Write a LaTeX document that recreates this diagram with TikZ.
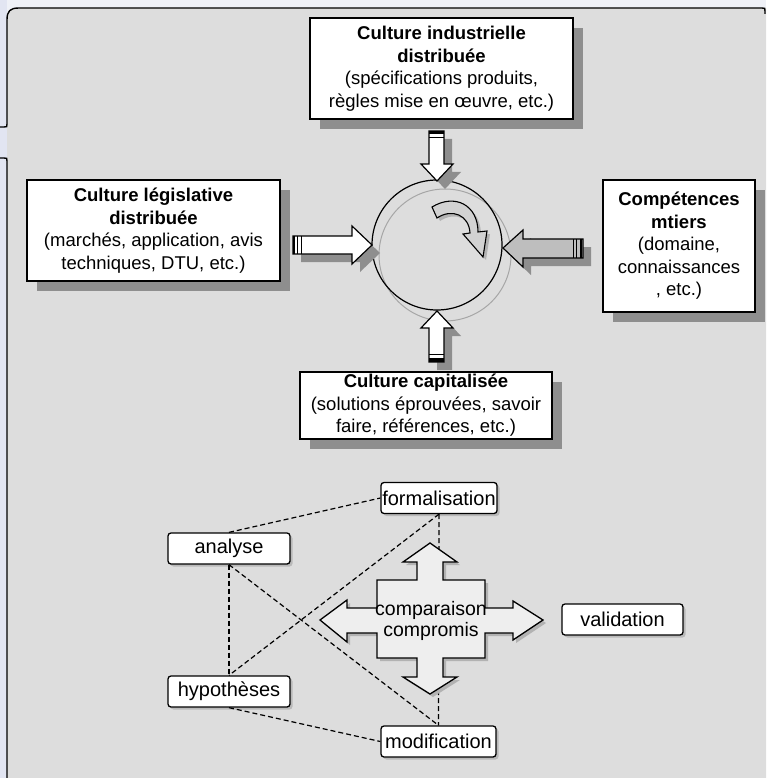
\documentclass[tikz,border=0pt]{standalone}
\usepackage{fontspec}
\setmainfont{Liberation Sans}
\usetikzlibrary{shadows}
\definecolor{panel}{HTML}{DDDDDD}
\definecolor{outerbg}{HTML}{EFF1F7}
\definecolor{sidebg}{HTML}{E2E5F2}
\definecolor{shadowgray}{HTML}{8E8E8E}
\definecolor{darkarrow}{HTML}{BEBEBE}
\definecolor{crossfill}{HTML}{EEEEEE}
\definecolor{turnfill}{HTML}{D2D2D2}

\begin{document}
\begin{tikzpicture}[x=1pt,y=-1pt,
  bigbox/.style={draw=black, line width=1.5pt, fill=white, align=center,
    inner sep=0pt, font=\fontsize{18.5}{22.5}\selectfont,
    general shadow={fill=shadowgray, shadow xshift=10pt, shadow yshift=-10pt}},
  smallbox/.style={draw=black, line width=1.3pt, fill=white, rounded corners=3pt,
    inner sep=0pt, minimum height=31pt, font=\fontsize{20}{22}\selectfont,
    general shadow={fill=gray!55, shadow xshift=2.5pt, shadow yshift=-2.5pt}},
  link/.style={draw=black, line width=1.2pt, dash pattern=on 5pt off 3pt},
  arrowshadow/.style={fill=shadowgray},
  lightshadow/.style={fill=gray!60},
  arrowbody/.style={draw=black, line width=1.2pt, fill=white},
  grayarrowbody/.style={draw=black, line width=1.2pt, fill=darkarrow},
  turnbody/.style={draw=black, line width=1.1pt, fill=turnfill},
  crossbody/.style={draw=black, line width=1.3pt, fill=crossfill},
  frameline/.style={draw=black, line width=1.4pt}]

\useasboundingbox (0,0) rectangle (766,778);

% window background and grey panel
\fill[outerbg] (0,0) rectangle (766,778);
\fill[sidebg] (0,0) rectangle (7,778);
\fill[panel] (7,778) -- (7,20) .. controls (7,11) and (10,8) .. (19,8)
  -- (766,8) -- (766,778) -- cycle;
\draw[frameline] (0,127) -- (4,127) .. controls (7,127) .. (7,124) -- (7,20)
  .. controls (7,11) and (10,8) .. (19,8) -- (762,8) .. controls (765,8) .. (765,11)
  -- (765,14);
\draw[frameline] (0,158) -- (4,158) .. controls (7,158) .. (7,161) -- (7,778);

% boxes of the upper diagram
\node[bigbox, minimum width=263pt, minimum height=101pt] (industrielle) at (441.5,68.5)
  {\textbf{Culture industrielle}\\\textbf{distribuée}\\(spécifications produits,\\règles mise en œuvre, etc.)};
\node[bigbox, minimum width=253pt, minimum height=101pt] (legislative) at (153.5,230.5)
  {\textbf{Culture législative}\\\textbf{distribuée}\\(marchés, application, avis\\techniques, DTU, etc.)};
\node[bigbox, minimum width=152pt, minimum height=132pt] (competences) at (679,246)
  {\textbf{Compétences}\\\textbf{mtiers}\\(domaine,\\connaissances\\, etc.)};
\node[bigbox, minimum width=252pt, minimum height=67pt] (capitalisee) at (426,405.5)
  {\textbf{Culture capitalisée}\\(solutions éprouvées, savoir\\faire, références, etc.)};

% central cycle
\draw[gray!70, line width=1pt] (445,255) circle[radius=66pt];
\draw[black, line width=1.2pt] (437,245) circle[radius=65pt];

% block arrows into the cycle
\foreach \d/\s in {8/arrowshadow, 0/arrowbody}
  \path[\s, shift={(\d,\d)}] (429,131) -- (444,131) -- (444,164) -- (453,164)
    -- (437,181) -- (421,164) -- (429,164) -- cycle;
\fill (429,131) rectangle (444,134.5);
\draw[line width=0.9pt] (429,137.5) -- (444,137.5);

\foreach \d/\s in {8/arrowshadow, 0/arrowbody}
  \path[\s, shift={(\d,\d)}] (429,362) -- (444,362) -- (444,328) -- (453,328)
    -- (437,311) -- (421,328) -- (429,328) -- cycle;
\fill (429,357.5) rectangle (444,362);
\draw[line width=0.9pt] (429,354.5) -- (444,354.5);

\foreach \d/\s in {8/arrowshadow, 0/arrowbody}
  \path[\s, shift={(\d,\d)}] (293,236) -- (352,236) -- (352,226) -- (372,245)
    -- (352,264) -- (352,254) -- (293,254) -- cycle;
\draw[line width=1.8pt] (294,236) -- (294,254);
\draw[line width=0.9pt] (297.5,236) -- (297.5,254);
\draw[line width=0.9pt] (301,236) -- (301,254);

\foreach \d/\s in {8/arrowshadow, 0/grayarrowbody}
  \path[\s, shift={(\d,\d)}] (583,239) -- (523,239) -- (523,230) -- (503,248)
    -- (523,267) -- (523,258) -- (583,258) -- cycle;
\draw[line width=0.9pt] (573,239) -- (573,258);
\draw[line width=0.9pt] (576.5,239) -- (576.5,258);
\draw[line width=1.8pt] (581,239) -- (581,258);

% turning arrow inside the cycle
\foreach \d/\s in {3/lightshadow, 0/turnbody}
  \path[\s, shift={(\d,\d)}] (432,207) .. controls (455,193) and (478,205) .. (478,232)
    -- (487,231) -- (483,257) -- (463,234) -- (470,233)
    .. controls (469,215) and (452,208) .. (437,218) -- cycle;

% boxes of the lower diagram
\node[smallbox, minimum width=116pt] (formalisation) at (439,498) {formalisation};
\node[smallbox, minimum width=122pt] (analyse) at (229,548.5) {analyse};
\node[smallbox, minimum width=122pt] (hypotheses) at (229,691.5) {hypothèses};
\node[smallbox, minimum width=115pt] (modification) at (438.5,741.5) {modification};
\node[smallbox, minimum width=121pt] (validation) at (622.5,619.5) {validation};

% dashed relations
\draw[link] (analyse.north) -- (formalisation.west);
\draw[link] (formalisation.south) -- (modification.north);
\draw[link] (formalisation.south) -- (hypotheses.north);
\draw[link] (analyse.south) -- (hypotheses.north);
\draw[link] (analyse.south) -- (modification.north);
\draw[link] (hypotheses.south) -- (modification.west);

% four-way arrow
\foreach \d/\s in {3/lightshadow, 0/crossbody}
  \path[\s, shift={(\d,\d)}] (430,543) -- (457,562) -- (443,562) -- (443,580)
    -- (485,580) -- (485,608) -- (513,608) -- (513,601) -- (543,620) -- (513,640)
    -- (513,633) -- (485,633) -- (485,658) -- (443,658) -- (443,677) -- (457,677)
    -- (430,694) -- (403,677) -- (417,677) -- (417,658) -- (377,658) -- (377,633)
    -- (347,633) -- (347,642) -- (320,620) -- (347,600) -- (347,608) -- (377,608)
    -- (377,580) -- (417,580) -- (417,562) -- (403,562) -- cycle;
\node[align=center, inner sep=0pt, font=\fontsize{19.5}{21}\selectfont] (comparaison)
  at (431,621) {comparaison\\compromis};

\end{tikzpicture}
\end{document}
